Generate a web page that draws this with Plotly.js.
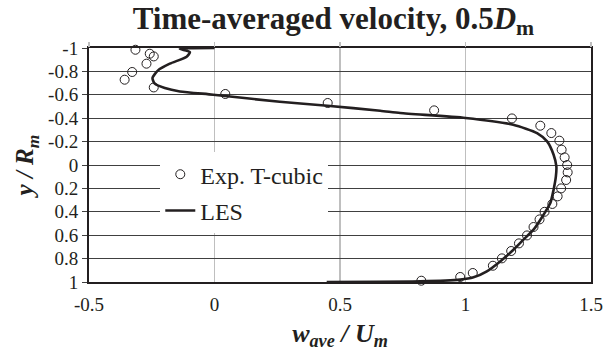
<!DOCTYPE html>
<html>
<head>
<meta charset="utf-8">
<script src="https://cdn.plot.ly/plotly-3.0.1.min.js"></script>
<style>html,body{margin:0;padding:0;background:#fff;}#chart{width:603px;height:358px;}</style>
</head>
<body>
<div id="chart"></div>
<script>
// Experimental data (T-cubic)
const expX = [-0.315, -0.258, -0.242, -0.271, -0.328, -0.358, -0.242, 0.043, 0.451, 0.875, 1.185, 1.298, 1.342, 1.374, 1.383, 1.395, 1.405, 1.407, 1.401, 1.381, 1.367, 1.346, 1.315, 1.295, 1.271, 1.245, 1.213, 1.182, 1.145, 1.109, 1.029, 0.979, 0.824];
const expY = [-0.985, -0.951, -0.928, -0.866, -0.795, -0.729, -0.663, -0.607, -0.530, -0.467, -0.398, -0.336, -0.273, -0.208, -0.131, -0.065, 0.0, 0.063, 0.128, 0.2, 0.268, 0.333, 0.4, 0.465, 0.530, 0.602, 0.670, 0.735, 0.798, 0.861, 0.923, 0.957, 0.989];
// LES profile
const lesX = [0, -0.138, -0.098, -0.111, -0.178, -0.225, -0.247, -0.238, -0.198, -0.138, -0.005, 0.26, 0.45, 0.66, 0.74, 1.0, 1.19, 1.285, 1.325, 1.351, 1.362, 1.36, 1.351, 1.338, 1.311, 1.271, 1.231, 1.191, 1.138, 1.085, 1.032, 0.979, 0.82, 0.447];
const lesY = [-1, -0.992, -0.965, -0.925, -0.866, -0.809, -0.744, -0.695, -0.658, -0.629, -0.601, -0.54, -0.506, -0.464, -0.444, -0.402, -0.344, -0.273, -0.202, -0.088, 0.012, 0.1, 0.211, 0.325, 0.425, 0.553, 0.638, 0.724, 0.824, 0.909, 0.960, 0.98, 0.995, 1.0];
// Tick labels
const xTickVals = [-0.5, 0, 0.5, 1, 1.5];
const xTickText = ["-0.5", "0", "0.5", "1", "1.5"];
const yTickVals = [-1, -0.8, -0.6, -0.4, -0.2, 0, 0.2, 0.4, 0.6, 0.8, 1];
const yTickText = ["-1", "-0.8", "-0.6", "-0.4", "-0.2", "0", "0.2", "0.4", "0.6", "0.8", "1"];

const ink = '#231f20';
const serif = '"Liberation Serif", "Times New Roman", serif';

const traces = [
  {x: expX, y: expY, type: 'scatter', mode: 'markers', name: 'Exp. T-cubic', legendgroup: 'a',
   marker: {symbol: 'circle-open', size: 9, color: ink, line: {width: 1, color: ink}}, cliponaxis: false},
  {x: lesX, y: lesY, type: 'scatter', mode: 'lines', name: 'LES', legendgroup: 'b',
   line: {color: ink, width: 2.6, shape: 'spline', smoothing: 0.6}},
  {x: [-0.5, 1.5], y: [0, 0], xaxis: 'x2', yaxis: 'y', mode: 'markers', opacity: 0, showlegend: false, hoverinfo: 'skip'}
];

const layout = {
  width: 603, height: 358,
  margin: {l: 89, r: 12, t: 48, b: 76},
  paper_bgcolor: '#fff', plot_bgcolor: '#fff',
  font: {family: serif, color: ink, size: 18},
  showlegend: true,
  title: {text: '<b>Time-averaged velocity, 0.5<i>D</i><sub>m</sub></b>', font: {family: serif, size: 31, color: ink},
          x: 0.553, xanchor: 'center', y: 0.95, yanchor: 'middle', yref: 'container'},
  xaxis: {range: [-0.5, 1.5], tickvals: xTickVals, ticktext: xTickText, showgrid: true, gridcolor: '#bfbfbf', gridwidth: 1.5,
          zeroline: false, showline: true, linecolor: ink, linewidth: 2, mirror: true, ticks: '', ticklabelstandoff: 4,
          tickfont: {family: serif, size: 19, color: ink},
          title: {text: '<b><i>w<sub>ave</sub> / U<sub>m</sub></i></b>', font: {family: serif, size: 26, color: ink}, standoff: 10}},
  xaxis2: {range: [-0.5, 1.5], overlaying: 'x', side: 'top', anchor: 'y', tickvals: xTickVals, showticklabels: false,
           ticks: 'outside', ticklen: 5, tickcolor: '#bfbfbf', tickwidth: 1.5, showgrid: false, zeroline: false, showline: false},
  yaxis: {range: [1, -1], autorange: false, tickvals: yTickVals, ticktext: yTickText, showgrid: true, gridcolor: '#404040', gridwidth: 1,
          zeroline: false, showline: true, linecolor: ink, linewidth: 2, mirror: true, ticks: 'outside', ticklen: 5, tickcolor: '#404040',
          tickfont: {family: serif, size: 19, color: ink},
          title: {text: '<b><i>y / R<sub>m</sub></i></b>', font: {family: serif, size: 25, color: ink}, standoff: 7}},
  legend: {x: 0.142, y: 0.555, xanchor: 'left', yanchor: 'top', bgcolor: '#fff', borderwidth: 0,
           font: {family: serif, size: 24, color: ink}, traceorder: 'grouped', tracegroupgap: 2}
};

Plotly.newPlot('chart', traces, layout, {displayModeBar: false, staticPlot: true});
</script>
</body>
</html>
